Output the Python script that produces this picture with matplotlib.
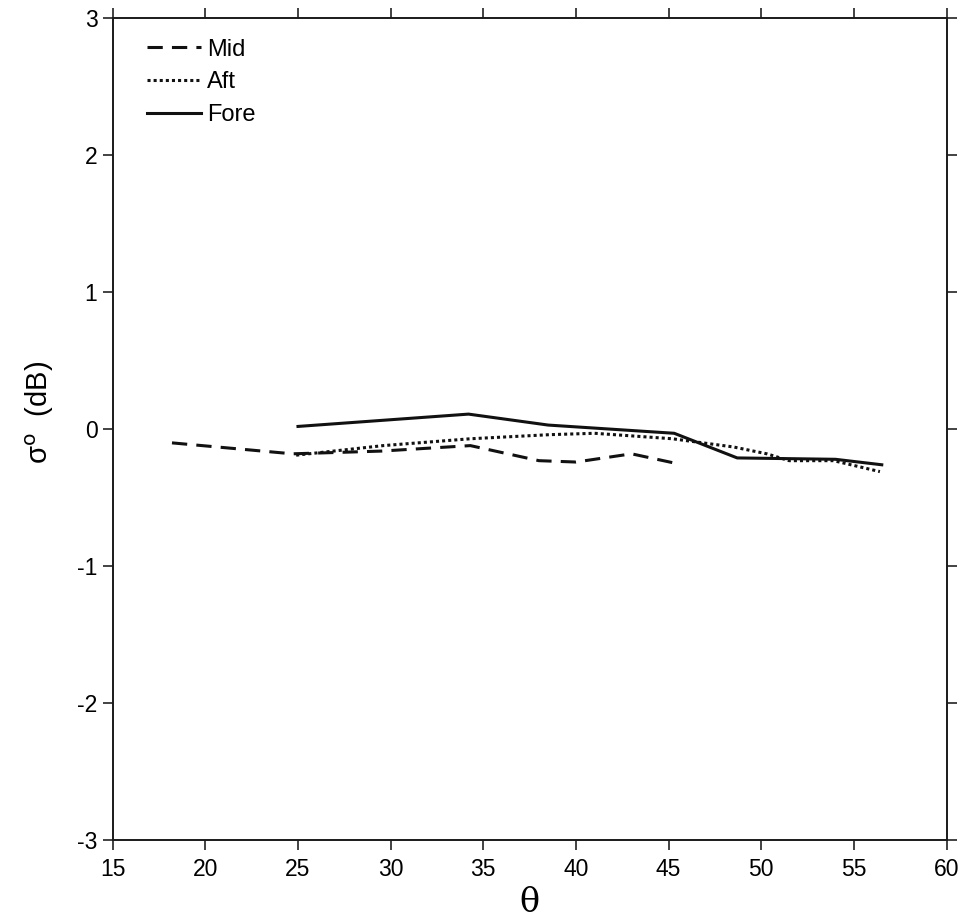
import matplotlib
matplotlib.use("Agg")
import matplotlib.pyplot as plt

# incidence angle (deg) and sigma0 (dB)
mid_theta = [18.2, 24.7, 29.5, 34.3, 38.0, 40.0, 43.0, 45.4]
mid_sigma = [-0.10, -0.18, -0.16, -0.12, -0.23, -0.24, -0.18, -0.25]

aft_theta = [24.9, 29.6, 34.3, 38.6, 41.0, 45.2, 48.5, 50.3, 51.5, 53.9, 56.4]
aft_sigma = [-0.19, -0.12, -0.07, -0.04, -0.03, -0.07, -0.13, -0.18, -0.23, -0.23, -0.31]

fore_theta = [25.0, 34.2, 38.5, 45.3, 48.7, 54.0, 56.5]
fore_sigma = [0.02, 0.11, 0.03, -0.03, -0.21, -0.22, -0.26]

xticks = [15, 20, 25, 30, 35, 40, 45, 50, 55, 60]
yticks = [-3, -2, -1, 0, 1, 2, 3]

plt.rcParams['font.family'] = ['Liberation Sans', 'DejaVu Sans']
plt.rcParams['axes.unicode_minus'] = False

fig = plt.figure(figsize=(9.63, 9.19), dpi=100)
ax = fig.add_axes([0.117, 0.086, 0.866, 0.894])

ax.plot(mid_theta, mid_sigma, color='#111111', lw=2.2, linestyle=(0, (5, 3)), label='Mid')
ax.plot(aft_theta, aft_sigma, color='#111111', lw=2.2, linestyle=(0, (1, 1)), label='Aft')
ax.plot(fore_theta, fore_sigma, color='#111111', lw=2.2, linestyle='-', label='Fore')

ax.set_xlim(15, 60)
ax.set_ylim(-3, 3)
ax.set_xticks(xticks)
ax.set_yticks(yticks)
ax.tick_params(axis='both', direction='out', length=7, width=1.2, labelsize=16.5,
               top=True, right=True, color='#222222')
ax.tick_params(axis='x', pad=6)
ax.tick_params(axis='y', pad=4)
for s in ax.spines.values():
    s.set_linewidth(1.4)
    s.set_color('#1a1a1a')

ax.set_xlabel('θ', fontsize=24, family='DejaVu Serif', labelpad=4)
ax.set_ylabel('σ$^{\\rm o}$  (dB)', fontsize=21)
ax.yaxis.set_label_coords(-0.068, 0.52)

leg = ax.legend(loc='upper left', bbox_to_anchor=(0.035, 0.981), frameon=False,
                fontsize=17, handlelength=2.3, handletextpad=0.25,
                labelspacing=0.45, borderaxespad=0, borderpad=0.2)

fig.savefig('out.png', dpi=100)
